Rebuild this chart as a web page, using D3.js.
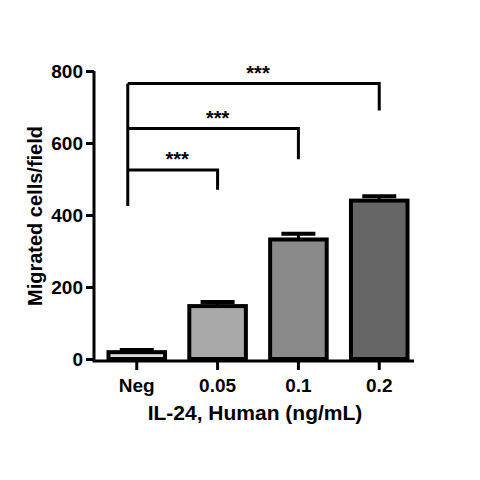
<!DOCTYPE html>
<meta charset="utf-8">
<style>body{margin:0;background:#fff}text{font-family:Arial,"Liberation Sans",sans-serif;font-weight:bold}</style>
<svg width="480" height="480"></svg>
<script src="https://d3js.org/d3.v7.min.js"></script>
<script>
const categories = ["Neg", "0.05", "0.1", "0.2"];
const values = [19, 147, 332, 440];
const errors = [6, 11, 16, 12];
const fills = ["#d9d9d9", "#a9a9a9", "#8a8a8a", "#666666"];
const yTicks = [0, 200, 400, 600, 800];
// comparisons: [from, to, bracket level value, right drop bottom]
const brackets = [["Neg", "0.05", 525, 470], ["Neg", "0.1", 640, 555], ["Neg", "0.2", 765, 690]];

const svg = d3.select("svg");
const x = d3.scaleBand().domain(categories).range([102, 414]).paddingInner(0.3).paddingOuter(0.08);
const y = d3.scaleLinear().domain([0, 800]).range([359, 71]);

const bars = svg.append("g");
bars.selectAll("line.err").data(categories).enter().append("line")
  .attr("x1", d => x(d) + x.bandwidth() / 2).attr("x2", d => x(d) + x.bandwidth() / 2)
  .attr("y1", (d, i) => y(values[i])).attr("y2", (d, i) => y(values[i] + errors[i]))
  .attr("stroke", "#000").attr("stroke-width", 3);
bars.selectAll("line.cap").data(categories).enter().append("line")
  .attr("x1", d => x(d) + x.bandwidth() * 0.2).attr("x2", d => x(d) + x.bandwidth() * 0.8)
  .attr("y1", (d, i) => y(values[i] + errors[i])).attr("y2", (d, i) => y(values[i] + errors[i]))
  .attr("stroke", "#000").attr("stroke-width", 4);
bars.selectAll("rect").data(categories).enter().append("rect")
  .attr("x", d => x(d)).attr("width", x.bandwidth())
  .attr("y", (d, i) => y(values[i])).attr("height", (d, i) => y(0) - y(values[i]))
  .attr("fill", (d, i) => fills[i]).attr("stroke", "#000").attr("stroke-width", 4);

const yAxis = svg.append("g").attr("transform", "translate(94,0)")
  .call(d3.axisLeft(y).tickValues(yTicks).tickSize(8).tickSizeOuter(0));
const xAxis = svg.append("g").attr("transform", "translate(0,361)")
  .call(d3.axisBottom(x).tickSize(9).tickSizeOuter(0));
[yAxis, xAxis].forEach(a => {
  a.selectAll("path,line").attr("stroke", "#000").attr("stroke-width", 3);
  a.selectAll("text").attr("font-size", 19).attr("fill", "#000");
});
yAxis.select("path").attr("d", "M0,71V361");
xAxis.select("path").attr("d", "M92.5,0H414");
xAxis.selectAll("text").attr("dy", "1em");

const bg = svg.append("g").attr("stroke", "#000").attr("stroke-width", 3).attr("fill", "none");
const cx = d => x(d) + x.bandwidth() / 2;
brackets.forEach(([a, b, lv, drop]) => {
  bg.append("path").attr("d", `M${cx(a) - 9},${y(lv)}H${cx(b)}V${y(drop)}`);
  svg.append("text").attr("x", (cx(a) + cx(b)) / 2).attr("y", y(lv) - 4)
    .attr("text-anchor", "middle").attr("font-size", 20).text("***");
});
bg.append("line").attr("x1", cx("Neg") - 9).attr("x2", cx("Neg") - 9)
  .attr("y1", y(765)).attr("y2", y(425));

svg.append("text").attr("transform", "translate(42,216) rotate(-90)")
  .attr("text-anchor", "middle").attr("font-size", 20).text("Migrated cells/field");
svg.append("text").attr("x", 255).attr("y", 420).attr("text-anchor", "middle")
  .attr("font-size", 21).text("IL-24, Human (ng/mL)");
</script>
